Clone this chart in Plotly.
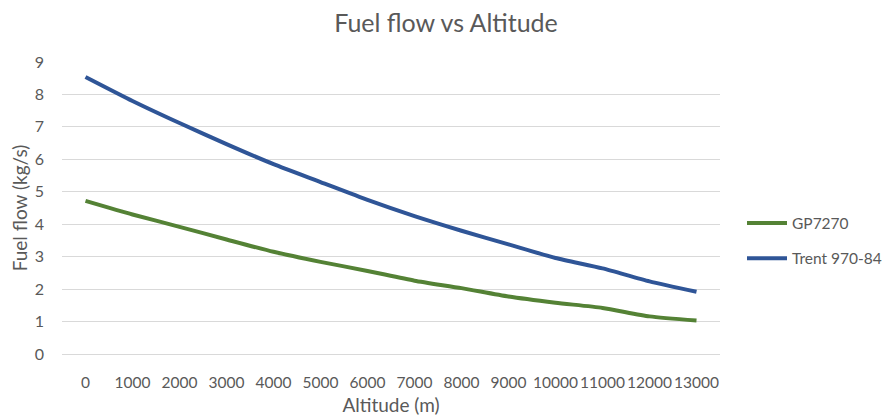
import plotly.graph_objects as go

altitude = ["0", "1000", "2000", "3000", "4000", "5000", "6000", "7000",
            "8000", "9000", "10000", "11000", "12000", "13000"]
gp7270 = [4.72, 4.3, 3.92, 3.53, 3.15, 2.84, 2.56, 2.26, 2.03, 1.77, 1.58, 1.42, 1.16, 1.03]
trent = [8.54, 7.8, 7.12, 6.47, 5.85, 5.3, 4.75, 4.25, 3.8, 3.38, 2.96, 2.64, 2.24, 1.92]

FONT = "Lato"
GREY = "#595959"

fig = go.Figure()
fig.add_trace(go.Scatter(x=altitude, y=gp7270, name="GP7270", mode="lines", legendgroup="a",
                         line=dict(color="#548235", width=4, shape="spline", smoothing=0.6)))
fig.add_trace(go.Scatter(x=altitude, y=trent, name="Trent 970-84", mode="lines", legendgroup="b",
                         line=dict(color="#2f5597", width=4, shape="spline", smoothing=0.6)))

fig.update_layout(
    width=891, height=419,
    paper_bgcolor="white", plot_bgcolor="white",
    margin=dict(l=54, r=179, t=54, b=73, autoexpand=False),
    title=dict(text="Fuel flow vs Altitude", x=0.4916, xanchor="center", xref="container",
               y=1 - 6/419, yref="container", yanchor="top", pad=dict(t=0, b=0),
               font=dict(family=FONT, size=25, color=GREY)),
    font=dict(family=FONT, color=GREY, size=16),
    legend=dict(x=1.0 + 22/658, xanchor="left", y=0.387, yanchor="middle",
                font=dict(family=FONT, size=15.5, color=GREY), tracegroupgap=12,
                itemwidth=40),
    showlegend=True,
)
fig.update_xaxes(type="category", range=[-0.5, 13.5], showgrid=False, zeroline=False,
                 showline=False, ticks="", ticklabelstandoff=17, tickangle=0, automargin=False,
                 title=dict(text="Altitude (m)", font=dict(family=FONT, size=19, color=GREY), standoff=9),
                 tickfont=dict(family=FONT, size=15.5, color=GREY))
fig.update_yaxes(range=[0, 9], dtick=1, showgrid=True, gridcolor="#d9d9d9", gridwidth=1,
                 zeroline=True, zerolinecolor="#d9d9d9", zerolinewidth=1, showline=False,
                 ticks="", ticklabelstandoff=17, automargin=False,
                 title=dict(text="Fuel flow (kg/s)", font=dict(family=FONT, size=19, color=GREY), standoff=11),
                 tickfont=dict(family=FONT, size=16, color=GREY))

fig.write_html("out.html")
